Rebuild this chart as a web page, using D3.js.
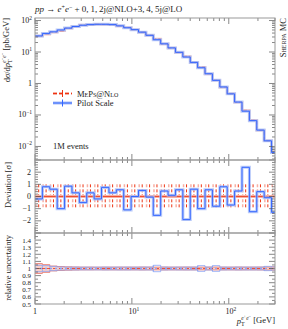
<!DOCTYPE html>
<html>
<head>
<meta charset="utf-8">
<script src="https://cdn.jsdelivr.net/npm/d3@7"></script>
<style>
  body { margin: 0; background: #fff; }
  text { font-family: "Liberation Serif", "DejaVu Serif", serif; fill: #222; }
  .sc { font-variant: small-caps; }
</style>
</head>
<body>
<div id="chart"></div>
<script>
// bin edges of the pT histogram [GeV]
const edges = [1, 1.192, 1.421, 1.694, 2.019, 2.407, 2.869, 3.42, 4.077, 4.86, 5.794, 6.906, 8.233,
    9.814, 11.7, 13.95, 16.62, 19.82, 23.62, 28.16, 33.57, 40.02, 47.7, 56.87, 67.79, 80.81, 96.33,
    114.8, 136.9, 163.2, 194.5, 231.9, 276.4, 329.5];

// dsigma/dpT [pb/GeV]
const mepsNlo = [32.0, 36.5, 42.5, 47.0, 56.5, 64.0, 71.5, 73.5, 76.5, 75.0, 73.5, 67.0, 60.0, 51.3,
    42.3, 34.0, 25.8, 18.0, 13.4, 9.65, 7.25, 4.62, 3.30, 2.01, 1.27, 0.765, 0.475, 0.254, 0.140,
    0.0675, 0.0327, 0.0152, 0.0068];
const pilotScale = [32.4, 38.9, 43.7, 50.1, 57.5, 64.6, 70.8, 74.1, 75.9, 75.9, 74.1, 67.6, 58.9, 51.3,
    42.7, 33.9, 24.5, 18.2, 13.5, 9.77, 6.92, 4.68, 3.16, 2.04, 1.26, 0.776, 0.468, 0.257, 0.132,
    0.0661, 0.0331, 0.0151, 0.00646];

// deviation of Pilot Scale from MePs@Nlo [sigma]
const deviation = [-0.2, 0.8, 0.6, -1.0, 0.85, 0.3, -0.5, 0.3, -0.2, 0.75, 0.3, 0.55, -1.1, 0.0, 0.5,
    -0.05, -1.55, 0.45, 0.1, 0.55, -1.9, 0.6, -1.0, 0.55, -0.8, 0.8, -0.7, 0.45, 2.4, -1.25, 0.4, -0.1, -1.3];

// relative uncertainties
const relErrMeps = [0.07, 0.055, 0.035, 0.028, 0.024, 0.022, 0.02, 0.02, 0.019, 0.02, 0.02, 0.02, 0.02,
    0.02, 0.021, 0.02, 0.02, 0.021, 0.02, 0.02, 0.021, 0.02, 0.02, 0.02, 0.021, 0.02, 0.02, 0.021,
    0.02, 0.02, 0.021, 0.022, 0.024];
const relErrPilot = [0.045, 0.04, 0.03, 0.022, 0.02, 0.02, 0.019, 0.019, 0.019, 0.02, 0.019, 0.02, 0.02,
    0.019, 0.02, 0.02, 0.045, 0.02, 0.019, 0.02, 0.02, 0.02, 0.04, 0.02, 0.04, 0.02, 0.019, 0.02,
    0.02, 0.02, 0.02, 0.03, 0.022];

const xTickLabels = [[1, "1"], [10, "10", "1"], [100, "10", "2"]];
const yMainLabels = [[100, "10", "2"], [10, "10", "1"], [1, "1"], [0.1, "10", "\u22121"], [0.01, "10", "\u22122"]];
const devLabels = [2, 1, 0, -1, -2];
const ratioLabels = [1.4, 1.3, 1.2, 1.1, 1, 0.9, 0.8, 0.7, 0.6, 0.5];

const W = 288, H = 329;
const L = 35, R = 275;
const P = {main: [18, 160], dev: [160, 233], rat: [233, 304]};

const RED = "#ee3311", RED_L = "#f7b0a4", BLUE = "#3366ff", BLUE_L = "#a8bdf8";

const x = d3.scaleLog().domain([1, 300]).range([L, R]);
const yMain = d3.scaleLog().domain([Math.pow(10, -2.43), Math.pow(10, 2.08)]).range([P.main[1], P.main[0]]);
const yDev = d3.scaleLinear().domain([-3, 3]).range([P.dev[1], P.dev[0]]);
const yRat = d3.scaleLinear().domain([0.5, 1.5]).range([P.rat[1], P.rat[0]]);

const svg = d3.select("#chart").append("svg")
    .attr("width", W).attr("height", H)
    .attr("viewBox", [0, 0, W, H]);

const defs = svg.append("defs");
Object.entries(P).forEach(([k, [t, b]]) => {
    defs.append("clipPath").attr("id", "clip-" + k)
        .append("rect").attr("x", L).attr("y", t).attr("width", R - L).attr("height", b - t);
});

// step line through histogram bins
const stepPts = vals => vals.map((v, i) => [edges[i], v]).concat([[edges[vals.length], vals[vals.length - 1]]]);
const stepLine = y => d3.line().x(d => x(d[0])).y(d => y(d[1])).curve(d3.curveStepAfter);

// ---------- main panel ----------
const gMain = svg.append("g").attr("clip-path", "url(#clip-main)");
const mainLine = stepLine(yMain);
gMain.append("path").attr("d", mainLine(stepPts(mepsNlo)))
    .attr("fill", "none").attr("stroke", RED_L).attr("stroke-width", 2.5).attr("opacity", 0.7);
gMain.append("path").attr("d", mainLine(stepPts(mepsNlo)))
    .attr("fill", "none").attr("stroke", RED).attr("stroke-width", 1).attr("stroke-dasharray", "4,2");
gMain.append("path").attr("d", mainLine(stepPts(pilotScale)))
    .attr("fill", "none").attr("stroke", BLUE_L).attr("stroke-width", 3).attr("opacity", 0.8);
gMain.append("path").attr("d", mainLine(stepPts(pilotScale)))
    .attr("fill", "none").attr("stroke", BLUE).attr("stroke-width", 1);

// ---------- deviation panel ----------
const gDev = svg.append("g").attr("clip-path", "url(#clip-dev)");
const centers = edges.slice(0, -1).map((e, i) => Math.sqrt(e * edges[i + 1]));
gDev.selectAll("line.errl")
    .data(centers)
    .join("line")
    .attr("class", "errl")
    .attr("x1", d => x(d) - 3).attr("x2", d => x(d) - 3)
    .attr("y1", yDev(1)).attr("y2", yDev(-1))
    .attr("stroke", RED_L).attr("stroke-width", 1.5).attr("stroke-dasharray", "3,2");
gDev.selectAll("line.err")
    .data(centers)
    .join("line")
    .attr("class", "err")
    .attr("x1", d => x(d)).attr("x2", d => x(d))
    .attr("y1", yDev(1)).attr("y2", yDev(-1))
    .attr("stroke", RED).attr("stroke-width", 1).attr("stroke-dasharray", "3,2");
gDev.append("line").attr("x1", L).attr("x2", R).attr("y1", yDev(0)).attr("y2", yDev(0))
    .attr("stroke", RED_L).attr("stroke-width", 3);
gDev.append("line").attr("x1", L).attr("x2", R).attr("y1", yDev(0)).attr("y2", yDev(0))
    .attr("stroke", RED).attr("stroke-width", 0.8);
const devLine = stepLine(yDev);
gDev.append("path").attr("d", devLine(stepPts(deviation)))
    .attr("fill", "none").attr("stroke", BLUE_L).attr("stroke-width", 3).attr("opacity", 0.8);
gDev.append("path").attr("d", devLine(stepPts(deviation)))
    .attr("fill", "none").attr("stroke", BLUE).attr("stroke-width", 1);

// ---------- relative uncertainty panel ----------
const gRat = svg.append("g").attr("clip-path", "url(#clip-rat)");
const band = d3.area().x(d => x(d[0])).y0(d => yRat(1 - d[1])).y1(d => yRat(1 + d[1])).curve(d3.curveStepAfter);
gRat.append("path").attr("d", band(stepPts(relErrMeps)))
    .attr("fill", RED_L).attr("opacity", 0.6);
const ratLine = stepLine(yRat);
[1, -1].forEach(s => {
    gRat.append("path").attr("d", ratLine(stepPts(relErrMeps.map(e => 1 + s * e))))
        .attr("fill", "none").attr("stroke", "#e86a5c").attr("stroke-width", 0.7);
    gRat.append("path").attr("d", ratLine(stepPts(relErrPilot.map(e => 1 + s * e))))
        .attr("fill", "none").attr("stroke", "#86a2f4").attr("stroke-width", 0.8);
});
// vertical sides of the blue boxes
gRat.selectAll("line.pbox")
    .data(relErrPilot.map((e, i) => [i, e]).filter(d => d[1] > 0.025))
    .join("line").attr("class", "pbox")
    .attr("x1", d => x(edges[d[0]])).attr("x2", d => x(edges[d[0]]))
    .attr("y1", d => yRat(1 + d[1])).attr("y2", d => yRat(1 - d[1]))
    .attr("stroke", "#86a2f4").attr("stroke-width", 0.8);
gRat.append("line").attr("x1", L).attr("x2", R).attr("y1", yRat(1)).attr("y2", yRat(1))
    .attr("stroke", RED).attr("stroke-width", 0.8).attr("stroke-dasharray", "4,2");
gRat.append("line").attr("x1", L).attr("x2", R).attr("y1", yRat(1)).attr("y2", yRat(1))
    .attr("stroke", "#8aa6f6").attr("stroke-width", 1.5).attr("stroke-dasharray", "2,3");

// ---------- frames and ticks ----------
const AX = "#555", FRAME = "#999";
const xMinor = [], yMinor = [];
[1, 10, 100].forEach(d => d3.range(1, 10).forEach(k => { if (d * k <= 300) xMinor.push(d * k); }));
[0.001, 0.01, 0.1, 1, 10, 100].forEach(d => d3.range(1, 10).forEach(k => yMinor.push(d * k)));
const xMajor = [1, 10, 100];

const ticks = svg.append("g").attr("stroke", AX).attr("stroke-width", 0.7);
const hTicks = (vals, yPos, len) => {
    ticks.append("g").selectAll("line").data(vals).join("line")
        .attr("x1", d => x(d)).attr("x2", d => x(d))
        .attr("y1", yPos).attr("y2", d => yPos + (xMajor.includes(d) ? len * 2 : len));
};
Object.values(P).forEach(([t, b]) => {
    hTicks(xMinor, t, 3);
    hTicks(xMinor, b, -3);
});
const vTicks = (vals, y, major) => {
    [[L, 1], [R, -1]].forEach(([x0, dir]) => {
        ticks.append("g").selectAll("line").data(vals).join("line")
            .attr("x1", x0).attr("x2", d => x0 + dir * (major(d) ? 6 : 3))
            .attr("y1", d => y(d)).attr("y2", d => y(d));
    });
};
const inDom = (y, v) => { const d = y.domain(); return v >= d[0] - 1e-9 && v <= d[1] + 1e-9; };
vTicks(yMinor.filter(v => inDom(yMain, v)), yMain, d => Math.abs(Math.log10(d) - Math.round(Math.log10(d))) < 1e-6);
vTicks(d3.range(-15, 16).map(i => i * 0.2), yDev, d => Math.abs(d - Math.round(d)) < 1e-6);
vTicks(d3.range(10, 31).map(i => i * 0.05), yRat, d => Math.abs(d * 10 - Math.round(d * 10)) < 1e-6);

svg.append("g").selectAll("rect").data(Object.values(P)).join("rect")
    .attr("x", L).attr("y", d => d[0]).attr("width", R - L).attr("height", d => d[1] - d[0])
    .attr("fill", "none").attr("stroke", FRAME).attr("stroke-width", 1);

// ---------- tick labels ----------
const powLabel = (g, d, anchor) => {
    const t = g.append("text").attr("text-anchor", anchor).attr("font-size", 8);
    t.append("tspan").text(d[1]);
    if (d[2]) t.append("tspan").attr("dy", -3.5).attr("font-size", 5.5).text(d[2]);
    return t;
};
xTickLabels.forEach(d => {
    powLabel(svg, d, "middle").attr("x", x(d[0]) + (d[2] ? 2 : 0)).attr("y", 314);
});
yMainLabels.forEach(d => {
    powLabel(svg, d, "end").attr("x", 32).attr("y", yMain(d[0]) + 2.5);
});
svg.append("g").selectAll("text").data(devLabels).join("text")
    .attr("x", 31).attr("y", d => yDev(d) + 2.5).attr("text-anchor", "end").attr("font-size", 8)
    .text(d => d < 0 ? "\u2212" + (-d) : d);
svg.append("g").selectAll("text").data(ratioLabels).join("text")
    .attr("x", 31).attr("y", d => yRat(d) + 2.5).attr("text-anchor", "end").attr("font-size", 7)
    .text(d => d);

// ---------- titles ----------
const title = svg.append("text").attr("x", 35).attr("y", 12).attr("font-size", 9);
title.append("tspan").attr("font-style", "italic").text("pp");
title.append("tspan").text(" \u2192 ");
title.append("tspan").attr("font-style", "italic").text("e");
title.append("tspan").attr("dy", -3.5).attr("font-size", 6).text("+");
title.append("tspan").attr("dy", 3.5).attr("font-style", "italic").text("e");
title.append("tspan").attr("dy", -3.5).attr("font-size", 6).text("\u2212");
title.append("tspan").attr("dy", 3.5).text(" + 0,\u20091,\u20092j@NLO+3,\u20094,\u20095j@LO");

svg.append("text").attr("class", "sc")
    .attr("transform", "translate(286,18) rotate(-90)")
    .attr("text-anchor", "end").attr("font-size", 8.5)
    .text("Sherpa MC");

const yTitle = svg.append("text")
    .attr("transform", "translate(10,18) rotate(-90)")
    .attr("text-anchor", "end").attr("font-size", 8.5);
yTitle.append("tspan").text("d");
yTitle.append("tspan").attr("font-style", "italic").text("\u03c3");
yTitle.append("tspan").text("/d");
yTitle.append("tspan").attr("font-style", "italic").text("p");
yTitle.append("tspan").attr("dy", 2).attr("font-size", 6).text("T");
yTitle.append("tspan").attr("dx", -3.5).attr("dy", -6.5).attr("font-size", 5.5).attr("font-style", "italic").text("e");
yTitle.append("tspan").attr("dy", -1.5).attr("font-size", 4.5).text("+");
yTitle.append("tspan").attr("dy", 1.5).attr("font-size", 5.5).attr("font-style", "italic").text("e");
yTitle.append("tspan").attr("dy", -1.5).attr("font-size", 4.5).text("\u2212");
yTitle.append("tspan").attr("dy", 4.5).text(" [pb/GeV]");

svg.append("text").attr("transform", "translate(11,162) rotate(-90)")
    .attr("text-anchor", "end").attr("font-size", 8.5)
    .text("Deviation [\u03c3]");
svg.append("text").attr("transform", "translate(11,235) rotate(-90)")
    .attr("text-anchor", "end").attr("font-size", 8.5)
    .text("relative uncertainty");

const xTitle = svg.append("text").attr("x", 275).attr("y", 324).attr("text-anchor", "end").attr("font-size", 8.5);
xTitle.append("tspan").attr("font-style", "italic").text("p");
xTitle.append("tspan").attr("dy", 2).attr("font-size", 6).text("T");
xTitle.append("tspan").attr("dx", -3.5).attr("dy", -6.5).attr("font-size", 5.5).attr("font-style", "italic").text("e");
xTitle.append("tspan").attr("dy", -1.5).attr("font-size", 4.5).text("+");
xTitle.append("tspan").attr("dy", 1.5).attr("font-size", 5.5).attr("font-style", "italic").text("e");
xTitle.append("tspan").attr("dy", -1.5).attr("font-size", 4.5).text("\u2212");
xTitle.append("tspan").attr("dy", 4.5).text("  [GeV]");

// ---------- legend ----------
const legend = svg.append("g");
const legendItems = [
    {name: "MePs@Nlo", color: RED, light: RED_L, dash: "4,2", y: 93.5},
    {name: "Pilot Scale", color: BLUE, light: BLUE_L, dash: null, y: 103}
];
legendItems.forEach(d => {
    legend.append("line").attr("x1", 53).attr("x2", 72).attr("y1", d.y).attr("y2", d.y)
        .attr("stroke", d.light).attr("stroke-width", 3).attr("stroke-dasharray", d.dash);
    legend.append("line").attr("x1", 53).attr("x2", 72).attr("y1", d.y).attr("y2", d.y)
        .attr("stroke", d.color).attr("stroke-width", 1).attr("stroke-dasharray", d.dash);
    legend.append("line").attr("x1", 62.5).attr("x2", 62.5).attr("y1", d.y - 3.5).attr("y2", d.y + 3.5)
        .attr("stroke", d.color).attr("stroke-width", 1);
    legend.append("text").attr("class", d.name === "MePs@Nlo" ? "sc" : null)
        .attr("x", 77).attr("y", d.y + 3).attr("font-size", 8.5).text(d.name);
});
svg.append("text").attr("x", 53).attr("y", 149).attr("font-size", 8.5).text("1M events");
</script>
</body>
</html>
